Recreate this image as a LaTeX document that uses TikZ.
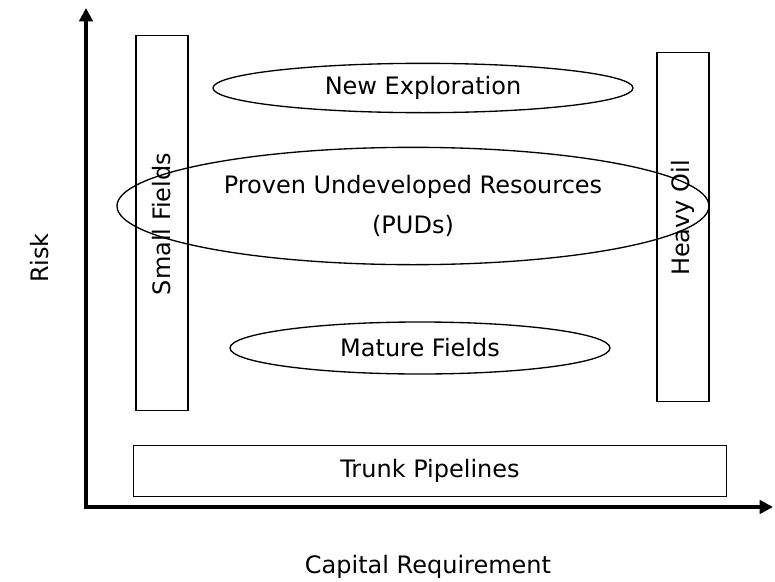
\documentclass[tikz,border=0pt]{standalone}
\usepackage{fontspec}
\setmainfont{DejaVu Sans}
\usetikzlibrary{arrows.meta,shapes.geometric}

\tikzset{
    field/.style={draw, line width=1pt, ellipse, inner sep=0pt, font=\fontsize{18}{30}\selectfont},
    band/.style={draw, line width=1pt, rectangle, inner sep=0pt, font=\fontsize{18}{22}\selectfont},
    axis/.style={line width=3pt, -{Triangle[length=10pt,width=10pt]}},
    axislabel/.style={font=\fontsize{18}{22}\selectfont}
}

\begin{document}
\begin{tikzpicture}[x=0.75pt, y=-0.75pt]
            \useasboundingbox (0, 0) rectangle (775, 582);

            % axes
            \coordinate (origin) at (86, 507);
            \coordinate (top) at (86, 8);
            \coordinate (right) at (773, 507);
            \draw[axis] ([yshift=-1.5pt]origin) -- (top);
            \draw[axis] ([xshift=-1.5pt]origin) -- (right);
            \node[axislabel, rotate=90] (risk) at (40, 258) {Risk};
            \node[axislabel] (capital) at (428, 567) {Capital Requirement};

            % vertical bands
            \node[band, minimum width=39pt, minimum height=281pt] (small) at (162, 223) {};
            \node[rotate=90, font=\fontsize{18}{22}\selectfont] (smalltext) at (162, 224) {Small Fields};
            \node[band, minimum width=39pt, minimum height=262pt] (heavy) at (683, 227) {};
            \node[rotate=90, font=\fontsize{18}{22}\selectfont] (heavytext) at (683, 218) {Heavy Oil};

            % ellipses
            \node[field, minimum width=315pt, minimum height=37pt] (newexp) at (423, 88) {New Exploration};
            \node[field, minimum width=444pt, minimum height=88pt, align=center] (puds) at (413, 206) {Proven Undeveloped Resources\\(PUDs)};
            \node[field, minimum width=285pt, minimum height=39pt] (mature) at (420, 348) {Mature Fields};

            % bottom band
            \node[band, minimum width=445pt, minimum height=38pt] (trunk) at (430, 471) {Trunk Pipelines};
        \end{tikzpicture}
\end{document}
